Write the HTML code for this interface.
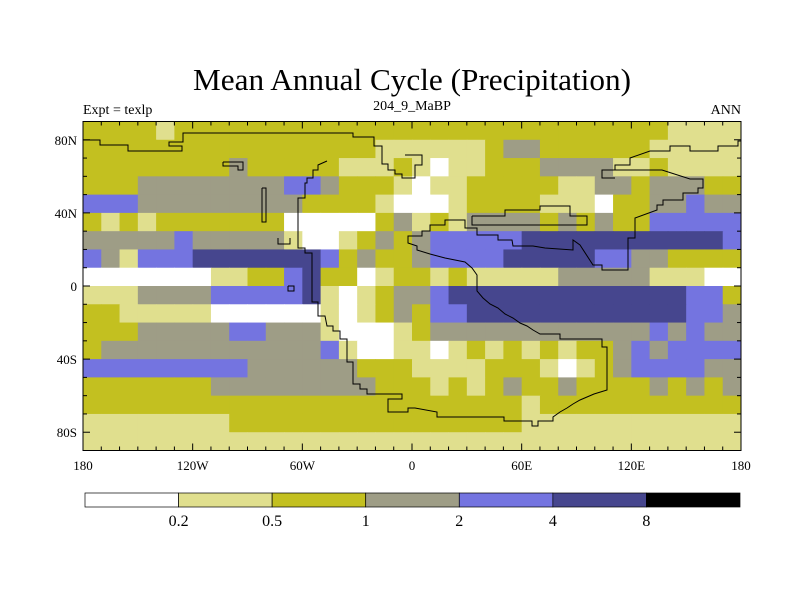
<!DOCTYPE html>
<html><head><meta charset="utf-8"><style>
html,body{margin:0;padding:0;background:#fff;}
svg text{font-family:"Liberation Serif",serif;fill:#000;}
</style></head><body>
<svg id="chart" width="800" height="600" xmlns="http://www.w3.org/2000/svg">
<text x="412" y="90" font-size="31" text-anchor="middle" textLength="438" lengthAdjust="spacingAndGlyphs">Mean Annual Cycle (Precipitation)</text>
<text x="83" y="114" font-size="14">Expt = texlp</text>
<text x="412" y="110" font-size="14" text-anchor="middle">204_9_MaBP</text>
<text x="741" y="114" font-size="14" text-anchor="end">ANN</text>
<g id="cells"></g>
<g id="coast" fill="none" stroke="#000" stroke-width="1"></g>
<rect x="83" y="121.5" width="658" height="329" fill="none" stroke="#000" stroke-width="1"/>
<g id="ticks" stroke="#000" stroke-width="1"></g>
<g id="labels"></g>
<g id="cbar"></g>
</svg>
<script>
const levelColors = ["#ffffff","#e0df8e","#c3c020","#9e9d86","#7474e0","#46468e","#000000"];
const cbarLabels = ["0.2","0.5","1","2","4","8"];
const lonTicks = [-180,-120,-60,0,60,120,180];
const lonTickLabels = ["180","120W","60W","0","60E","120E","180"];
const latTicks = [80,40,0,-40,-80];
const latTickLabels = ["80N","40N","0","40S","80S"];
// gridded precip level index, 10deg cells, rows from 90N southward, cols from 180W eastward
const gridRows = [
"222212222222222222222222222222221111",
"222222222222222211111123322222211111",
"222222223222221112101122233331121111",
"222333333334432221011222221133233322",
"444333333333222210001222211102233433",
"212122222220000023121333323232244444",
"333334333331001232344444555555555554",
"431444555555542322344445555544332222",
"000000011224522012212111113333311100",
"111333344444510123345555555555555442",
"221111100000010123244555555555555443",
"222333334433310001233333333333343433",
"233333333333341001101212121223434444",
"444444444333333222111122210123444433",
"222222233333333322212123223222232323",
"222222222222222222222222122222222222",
"111111112222222222222222111111111111",
"111111111111111111111111111111111111"
];
const NS="http://www.w3.org/2000/svg";
const X0=83,X1=741,Y0=121.5,Y1=450.5;
function xOf(lon){return X0+(lon+180)/360*(X1-X0);}
function yOf(lat){return Y0+(90-lat)/180*(Y1-Y0);}
function mk(tag,attrs,parent){const e=document.createElementNS(NS,tag);for(const k in attrs)e.setAttribute(k,attrs[k]);parent.appendChild(e);return e;}
const cells=document.getElementById('cells');
gridRows.forEach((row,j)=>{
  for(let i=0;i<row.length;i++){
    const v=+row[i];
    const lon=-180+10*i, lat=90-10*j;
    const x=xOf(lon), y=yOf(lat);
    const r=mk('rect',{x:x,y:y,width:xOf(lon+10)-x+0.5,height:yOf(lat-10)-y+0.5,fill:levelColors[v]},cells);
    
    
  }
});
// coastline outlines (approximate, pixel polylines)
const coastPaths=[
"83,140 100,140 100,145 128,145 128,151 182,151 182,146 169,146 169,142 183,142 183,133 353,133 353,137 374,137 374,146 382,146 382,164 388,164 388,170 395,170 395,174 402,174 402,178 415,178 415,165 422,165 422,155 405,155",
"327,161 318,165 318,170 313,170 313,178 307,178 307,183 305,183 305,198 298,198 298,248 305,248 305,253 312,253 312,302 318,302 318,316 325,316 327,326 333,326 333,331 340,331 340,339 347,339 347,362 353,362 353,384 360,384 360,389 367,389 367,394 402,394 402,399 388,399 388,412 408,412 408,408 415,408 437,412 437,417 504,417 504,421 532,421 532,426 538,426 538,421 553,421 553,417 560,412 567,408 573,404 580,400 587,397 594,394 607,390 607,347 602,347 602,339 560,339 560,334 540,334 533,330 527,326 520,323 513,318 505,314 498,308 490,304 483,298 477,291 477,275 472,268 465,262 445,258 430,254 417,250 417,246 408,243 408,236 422,236 422,231 430,231 430,225 445,225 445,220 465,220 465,228 477,228 477,235 498,235 498,240 512,240 513,246 533,246 545,248 573,250 573,240 580,245 593,265 602,265 602,270 628,270 628,238 635,238 635,218 657,210 657,205 663,205 663,200 683,200 683,193 698,193 698,188 703,188 703,179 690,179 662,170 615,170 602,170 602,178 615,178",
"472,216 472,225 587,225 587,216 570,216 570,206 540,206 540,210 505,210 505,216 472,216",
"602,170 615,170 615,165 630,165 630,158 650,151 670,151 670,146 690,146 690,151 718,151 718,146 738,146 738,141 741,141",
"262,188 262,222 266,222 266,188 262,188",
"223,162 243,162 243,170 238,170 238,166 223,166 223,162",
"278,238 278,244 290,244 290,238",
"288,286 288,291 294,291 294,286 288,286"
];
const coast=document.getElementById('coast');
coastPaths.forEach(p=>{const e=mk('polyline',{points:p},coast);
  
  });
// ticks
const ticks=document.getElementById('ticks');
for(let lon=-170;lon<180;lon+=10){const x=xOf(lon);const L=(lon%60===0)?7:4;
  mk('line',{x1:x,y1:Y1,x2:x,y2:Y1-L},ticks);mk('line',{x1:x,y1:Y0,x2:x,y2:Y0+L},ticks);}
for(let lat=-80;lat<=80;lat+=10){const y=yOf(lat);const L=(lat%40===0)?7:4;
  mk('line',{x1:X0,y1:y,x2:X0+L,y2:y},ticks);mk('line',{x1:X1,y1:y,x2:X1-L,y2:y},ticks);}
const labels=document.getElementById('labels');
lonTicks.forEach((lon,k)=>{const t=mk('text',{x:xOf(lon),y:470,'font-size':13,'text-anchor':'middle'},labels);t.textContent=lonTickLabels[k];
  
  });
latTicks.forEach((lat,k)=>{const t=mk('text',{x:77,y:yOf(lat)+5,'font-size':13,'text-anchor':'end'},labels);t.textContent=latTickLabels[k];
  
  });
// colorbar
const cbar=document.getElementById('cbar');
const CB0=85,CB1=740,CBy=493,CBh=14;const w=(CB1-CB0)/levelColors.length;
levelColors.forEach((c,k)=>{const r=mk('rect',{x:CB0+k*w,y:CBy,width:w,height:CBh,fill:c,stroke:'#000','stroke-width':0.7},cbar);
  
  });
cbarLabels.forEach((s,k)=>{const t=mk('text',{x:CB0+(k+1)*w,y:526,'font-size':16,'text-anchor':'middle'},cbar);t.textContent=s;
  
  });
</script>
</body></html>
